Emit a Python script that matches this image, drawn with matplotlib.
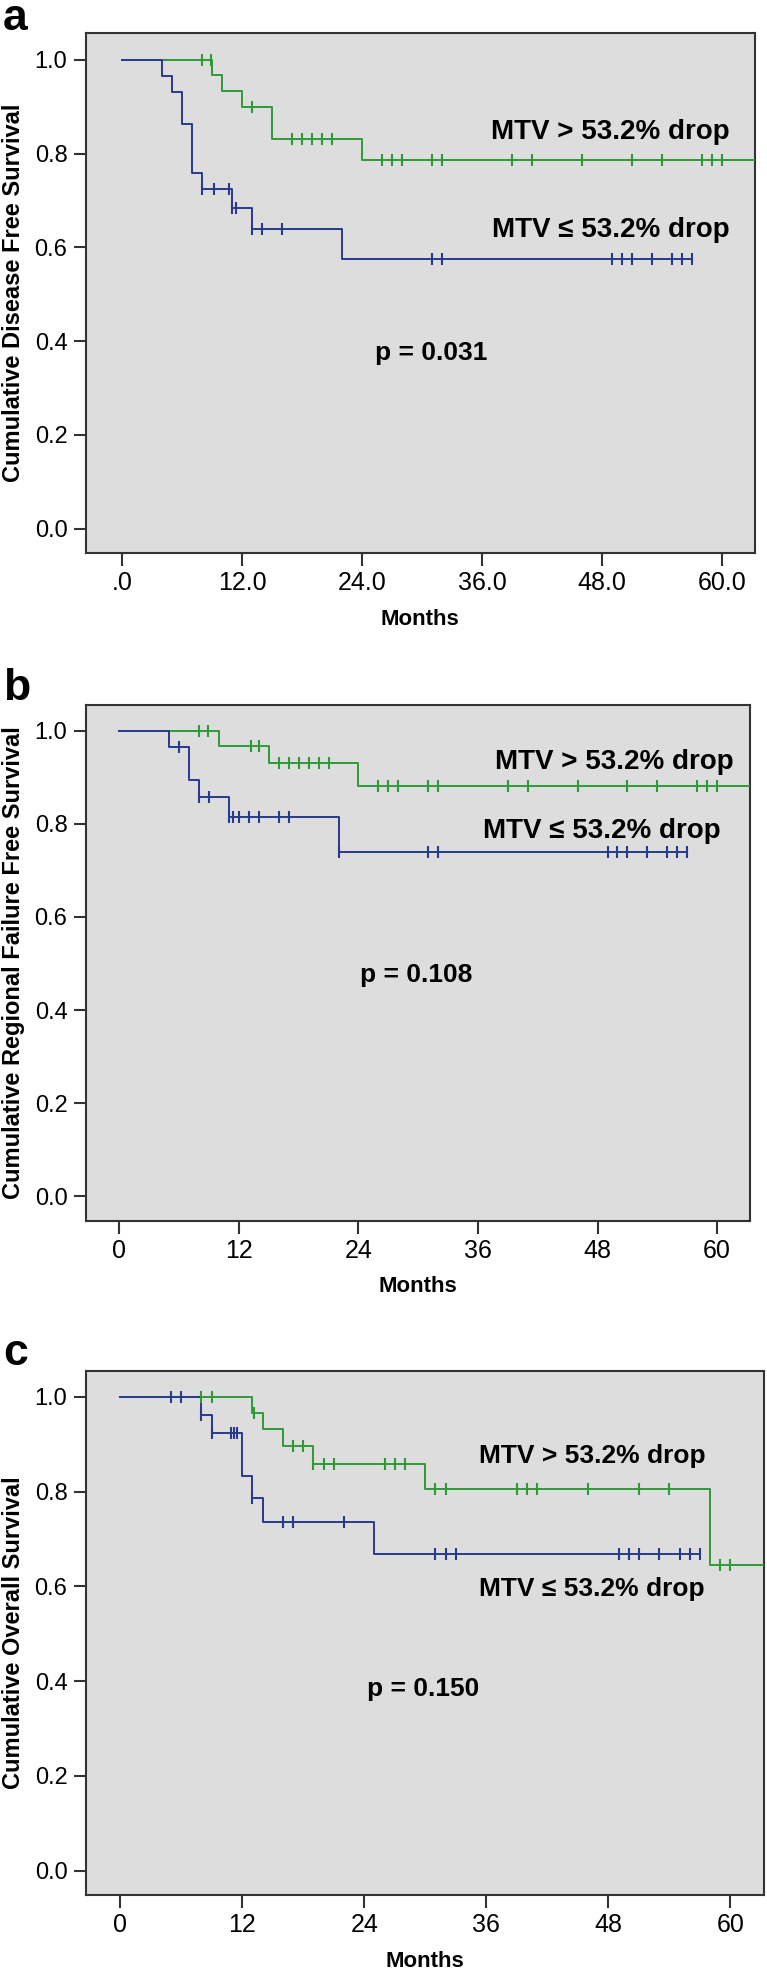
import numpy as np
import matplotlib
matplotlib.use("Agg")
import matplotlib.pyplot as plt

# panel a: disease free survival
a_hi_times = [9, 10, 12, 15, 24]
a_hi_surv = [0.967, 0.934, 0.900, 0.832, 0.787]
a_hi_end = 64
a_hi_cens = [8, 8.9, 13, 17, 18, 19, 20, 21, 26, 27, 28, 31, 32, 39, 41, 46, 51, 54, 58, 59, 60]
a_lo_times = [4, 5, 6, 7, 8, 11, 13, 22]
a_lo_surv = [0.966, 0.931, 0.863, 0.758, 0.724, 0.683, 0.638, 0.574]
a_lo_end = 57
a_lo_cens = [8, 9.2, 10.7, 11, 11.4, 13, 14, 16, 31, 32, 49, 50, 51, 53, 55, 56, 57]

# panel b: regional failure free survival
b_hi_times = [10, 15, 24]
b_hi_surv = [0.967, 0.931, 0.881]
b_hi_end = 64
b_hi_cens = [8, 8.9, 13.2, 14, 16, 17, 18, 19, 20, 21, 26, 27, 28, 31, 32, 39, 41, 46, 51, 54, 58, 59, 60]
b_lo_times = [5, 7, 8, 11, 22]
b_lo_surv = [0.964, 0.894, 0.858, 0.815, 0.740]
b_lo_end = 57
b_lo_cens = [6, 8, 9, 11, 11.4, 12, 13, 14, 16, 17, 22, 31, 32, 49, 50, 51, 53, 55, 56, 57]

# panel c: overall survival
c_hi_times = [13, 14, 16, 19, 30, 58]
c_hi_surv = [0.966, 0.932, 0.897, 0.859, 0.805, 0.644]
c_hi_end = 64
c_hi_cens = [8, 9, 13.2, 17, 18, 19, 20, 21, 26, 27, 28, 31, 32, 39, 40, 41, 46, 51, 54, 59, 60]
c_lo_times = [8, 9, 12, 13, 14, 25]
c_lo_surv = [0.962, 0.923, 0.833, 0.786, 0.736, 0.669]
c_lo_end = 57
c_lo_cens = [5, 6, 8, 9, 10.9, 11.2, 11.5, 13, 16, 17, 22, 31, 32, 33, 49, 50, 51, 53, 55, 56, 57]

panel_letters = ["a", "b", "c"]
ylabels = ["Cumulative Disease Free Survival",
           "Cumulative Regional Failure Free Survival",
           "Cumulative Overall Survival"]
p_texts = ["p = 0.031", "p = 0.108", "p = 0.150"]
xtick_vals = [0, 12, 24, 36, 48, 60]
xtick_a = [".0", "12.0", "24.0", "36.0", "48.0", "60.0"]
xtick_bc = ["0", "12", "24", "36", "48", "60"]
label_hi = "MTV > 53.2% drop"
label_lo = "MTV \u2264 53.2% drop"

GREEN = "#2e9a36"
BLUE = "#283a8e"
BG = "#dddddd"
SANS = ["Liberation Sans", "DejaVu Sans"]
NARROW = ["Liberation Sans Narrow", "Liberation Sans", "DejaVu Sans"]

plt.rcParams["font.family"] = SANS

W, H = 767, 1971
fig = plt.figure(figsize=(W / 100, H / 100), dpi=100)


def px_axes(left, top, right, bottom):
    return fig.add_axes([left / W, 1 - bottom / H, (right - left) / W, (bottom - top) / H])


def km_step(times, surv, end):
    x = [0] + list(times) + [end]
    y = [1.0] + list(surv) + [surv[-1]]
    return x, y


def cens_y(times, surv, cens):
    t = np.asarray(times)
    s = np.concatenate([[1.0], surv])
    idx = np.searchsorted(t, cens, side="right")
    return s[idx]


def draw_curve(ax, times, surv, end, cens, color):
    x, y = km_step(times, surv, end)
    ax.step(x, y, where="post", color=color, lw=1.4, zorder=3)
    ax.plot(cens, cens_y(times, surv, cens), ls="none", marker="|",
            ms=8, mew=1.5, color=color, zorder=4)


panels = [
    dict(box=(85.5, 33, 755, 553), xlim=(-3.65, 63.3), ylim=(-0.052, 1.057),
         hi=(a_hi_times, a_hi_surv, a_hi_end, a_hi_cens),
         lo=(a_lo_times, a_lo_surv, a_lo_end, a_lo_cens),
         xt=xtick_a, hi_pos=(60.8, 0.845), lo_pos=(60.8, 0.637),
         p_pos=(30.9, 0.375), lab_size=20, letter_y=30),
    dict(box=(85.5, 705, 750, 1220.5), xlim=(-3.4, 63.3), ylim=(-0.052, 1.055),
         hi=(b_hi_times, b_hi_surv, b_hi_end, b_hi_cens),
         lo=(b_lo_times, b_lo_surv, b_lo_end, b_lo_cens),
         xt=xtick_bc, hi_pos=(61.7, 0.932), lo_pos=(60.4, 0.785),
         p_pos=(29.8, 0.475), lab_size=20, letter_y=700),
    dict(box=(85.5, 1370.7, 764, 1895.3), xlim=(-3.4, 63.3), ylim=(-0.052, 1.055),
         hi=(c_hi_times, c_hi_surv, c_hi_end, c_hi_cens),
         lo=(c_lo_times, c_lo_surv, c_lo_end, c_lo_cens),
         xt=xtick_bc, hi_pos=(57.6, 0.876), lo_pos=(57.5, 0.594),
         p_pos=(29.8, 0.383), lab_size=19, letter_y=1365),
]

for i, p in enumerate(panels):
    l, t, r, b = p["box"]
    ax = px_axes(l, t, r, b)
    ax.set_facecolor(BG)
    for sp in ax.spines.values():
        sp.set_color("#333333")
        sp.set_linewidth(1.5)

    draw_curve(ax, *p["hi"], GREEN)
    draw_curve(ax, *p["lo"], BLUE)

    ax.set_xlim(*p["xlim"])
    ax.set_ylim(*p["ylim"])
    ax.set_xticks(xtick_vals)
    ax.set_xticklabels(p["xt"], family=NARROW, fontsize=18)
    ax.set_yticks([0, 0.2, 0.4, 0.6, 0.8, 1.0])
    ax.set_yticklabels(["0.0", "0.2", "0.4", "0.6", "0.8", "1.0"], fontsize=17)
    ax.tick_params(direction="out", length=9, width=1.5, color="#333333", pad=4)

    ax.set_xlabel("Months", fontsize=16, fontweight="bold", family=NARROW, labelpad=10)
    ax.set_ylabel(ylabels[i], fontsize=17, fontweight="bold")
    ax.yaxis.set_label_coords((25 - l) / (r - l), 0.5)

    ax.text(*p["hi_pos"], label_hi, ha="right", va="center",
            fontsize=p["lab_size"], fontweight="bold")
    ax.text(*p["lo_pos"], label_lo, ha="right", va="center",
            fontsize=p["lab_size"], fontweight="bold")
    ax.text(*p["p_pos"], p_texts[i], ha="center", va="center",
            fontsize=19, fontweight="bold")

    fig.text(3 / W, 1 - p["letter_y"] / H, panel_letters[i], ha="left",
             va="baseline", fontsize=32, fontweight="bold")

fig.savefig("out.png", dpi=100)
